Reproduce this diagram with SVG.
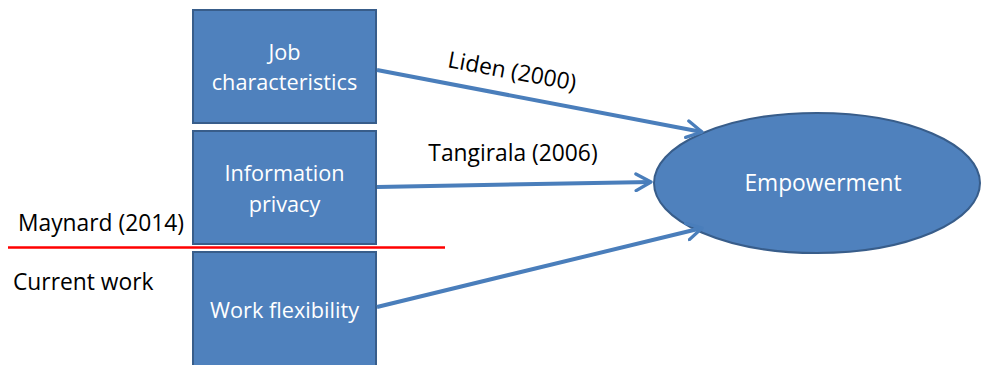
<svg xmlns="http://www.w3.org/2000/svg" width="984" height="365" viewBox="0 0 984 365">
  <style>
    .box { fill: #4F81BD; stroke: #385D8A; stroke-width: 2; }
    .ntext { font-family: "Open Sans", "Liberation Sans", sans-serif; font-size: 21.7px; fill: #ffffff; text-anchor: middle; }
    .label { font-family: "Open Sans", "Liberation Sans", sans-serif; font-size: 22.8px; fill: #000000; }
    .conn { stroke: #4A7EBB; stroke-width: 4; fill: none; }
  </style>
  <defs>
    <marker id="open" viewBox="0 0 12 12" refX="10" refY="6" markerWidth="5" markerHeight="5" orient="auto" markerUnits="strokeWidth">
      <path d="M1,1 L10,6 L1,11" fill="none" stroke="#4A7EBB" stroke-width="2" stroke-linecap="round" stroke-linejoin="round"/>
    </marker>
  </defs>
  <rect width="984" height="365" fill="#ffffff"/>

  <g id="node-job">
    <rect class="box" x="193" y="10" width="183" height="113"/>
    <text class="ntext" x="284.5" y="60">Job</text>
    <text class="ntext" x="284.5" y="90">characteristics</text>
  </g>
  <g id="node-privacy">
    <rect class="box" x="193" y="131" width="183" height="113"/>
    <text class="ntext" x="284.5" y="181">Information</text>
    <text class="ntext" x="284.5" y="212">privacy</text>
  </g>
  <g id="node-flex">
    <rect class="box" x="193" y="252" width="183" height="120"/>
    <text class="ntext" x="284.5" y="318">Work flexibility</text>
  </g>
  <g id="node-empowerment">
    <ellipse class="box" cx="817" cy="183" rx="163" ry="70"/>
    <text class="ntext" x="823" y="191" style="font-size:22.8px">Empowerment</text>
  </g>

  <g id="connectors">
    <line class="conn" x1="377" y1="70" x2="702" y2="132" marker-end="url(#open)"/>
    <line class="conn" x1="377" y1="187" x2="651" y2="182" marker-end="url(#open)"/>
    <line class="conn" x1="377" y1="307" x2="702" y2="228" marker-end="url(#open)"/>
  </g>

  <g id="labels">
    <text class="label" x="512" y="79" text-anchor="middle" transform="rotate(10.5 512 72)">Liden (2000)</text>
    <text class="label" x="513" y="161" text-anchor="middle">Tangirala (2006)</text>
    <text class="label" x="18" y="231">Maynard (2014)</text>
    <text class="label" x="13" y="290">Current work</text>
  </g>

  <line id="divider" x1="8" y1="247.5" x2="445" y2="247.5" stroke="#FF0000" stroke-width="2.5"/>
</svg>
